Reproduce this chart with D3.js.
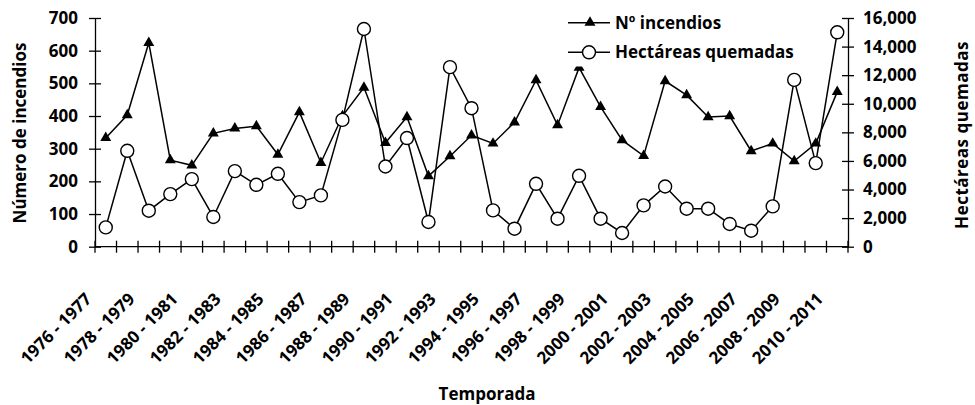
<!DOCTYPE html>
<meta charset="utf-8">
<script src="https://d3js.org/d3.v7.min.js"></script>
<title>Incendios y hectáreas quemadas por temporada</title>
<style>
body { margin: 0; background: #fff; }
svg { font-family: "Open Sans", sans-serif; font-weight: bold; }
</style>
<svg width="975" height="405"></svg>
<script>

// temporadas 1976-1977 ... 2010-2011
var seasons = d3.range(1976, 2011).map(y => y + " - " + (y + 1));

var incendios = [333, 403, 624, 265, 249, 347, 362, 369, 282, 412,
                 257, 400, 487, 318, 397, 216, 277, 341, 316, 381,
                 510, 372, 548, 428, 326, 278, 507, 464, 397, 400,
                 293, 316, 262, 316, 474];

var hectareas = [1350, 6710, 2520, 3680, 4730, 2080, 5290, 4330, 5100, 3120,
                 3590, 8870, 15230, 5610, 7600, 1730, 12560, 9690, 2540, 1260,
                 4400, 1960, 4960, 1960, 960, 2890, 4210, 2660, 2660, 1590,
                 1120, 2820, 11670, 5850, 15000];

var leftTicks = d3.range(0, 701, 100);
var rightTicks = d3.range(0, 16001, 2000);

var svg = d3.select("svg");

var x = d3.scaleBand().domain(seasons).range([95, 848]);
var yL = d3.scaleLinear().domain([0, 700]).range([246.7, 18]);
var yR = d3.scaleLinear().domain([0, 16000]).range([246.7, 18]);
var cx = d => x(d) + x.bandwidth() / 2;

// axes
var gl = svg.append("g")
    .attr("transform", "translate(95,0)")
    .call(d3.axisLeft(yL).tickValues(leftTicks).tickSize(6).tickSizeOuter(0).tickPadding(11));
gl.selectAll(".tick line").attr("x1", 6);

var gr = svg.append("g")
    .attr("transform", "translate(848,0)")
    .call(d3.axisRight(yR).tickValues(rightTicks).tickFormat(d3.format(",")).tickSize(6).tickSizeOuter(0).tickPadding(9));
gr.selectAll(".tick line").attr("x1", -6);

svg.selectAll(".domain, .tick line").attr("stroke", "#000").attr("stroke-width", 1.3);
svg.selectAll(".tick text")
    .attr("font-size", 17).attr("font-family", "Open Sans").attr("font-weight", "bold").attr("fill", "#000");

// x axis, ticks between categories
var xa = svg.append("g");
xa.append("line")
    .attr("x1", 95).attr("x2", 848).attr("y1", yL(0)).attr("y2", yL(0))
    .attr("stroke", "#000").attr("stroke-width", 1.3);
xa.selectAll("line.t")
    .data(seasons.map(s => x(s)).concat([848]))
    .join("line")
      .attr("class", "t")
      .attr("x1", d => d).attr("x2", d => d)
      .attr("y1", yL(0) - 6).attr("y2", yL(0) + 6)
      .attr("stroke", "#000").attr("stroke-width", 1.3);
xa.selectAll("text")
    .data(seasons.filter((s, i) => i % 2 === 0))
    .join("text")
      .attr("transform", d => "translate(" + (cx(d) - 13) + ",300) rotate(-45)")
      .attr("text-anchor", "end")
      .attr("font-size", 17)
      .text(d => d);

// series: incendios first, circles drawn over them
var lineL = d3.line().x((d, i) => cx(seasons[i])).y(d => yL(d));
var lineR = d3.line().x((d, i) => cx(seasons[i])).y(d => yR(d));
var tri = d3.symbol(d3.symbolTriangle, 52);

svg.append("path").datum(incendios)
    .attr("d", lineL).attr("fill", "none").attr("stroke", "#000").attr("stroke-width", 1.5);
svg.append("g").selectAll("path")
    .data(incendios)
    .join("path")
      .attr("d", tri)
      .attr("transform", (d, i) => "translate(" + cx(seasons[i]) + "," + yL(d) + ")")
      .attr("fill", "#000");

svg.append("path").datum(hectareas)
    .attr("d", lineR).attr("fill", "none").attr("stroke", "#000").attr("stroke-width", 1.5);
svg.append("g").selectAll("circle")
    .data(hectareas)
    .join("circle")
      .attr("cx", (d, i) => cx(seasons[i]))
      .attr("cy", d => yR(d))
      .attr("r", 6.5)
      .attr("fill", "#fff").attr("stroke", "#000").attr("stroke-width", 1.4);

// legend
var lg = svg.append("g");
lg.append("rect").attr("x", 562).attr("y", 3).attr("width", 220).attr("height", 63.5).attr("fill", "#fff");
var items = [{name: "Nº incendios", y: 22.7, mark: "tri"}, {name: "Hectáreas quemadas", y: 52.3, mark: "circ"}];
items.forEach(it => {
  lg.append("line").attr("x1", 568).attr("x2", 610).attr("y1", it.y).attr("y2", it.y)
    .attr("stroke", "#000").attr("stroke-width", 1.5);
  if (it.mark === "tri") {
    lg.append("path").attr("d", tri).attr("transform", "translate(590," + it.y + ")").attr("fill", "#000");
  } else {
    lg.append("circle").attr("cx", 589).attr("cy", it.y).attr("r", 6.5)
      .attr("fill", "#fff").attr("stroke", "#000").attr("stroke-width", 1.4);
  }
  lg.append("text").attr("x", 615).attr("y", it.y + 6).attr("font-size", 17).text(it.name);
});

// axis titles
svg.append("text")
    .attr("transform", "translate(26,133) rotate(-90)")
    .attr("text-anchor", "middle").attr("font-size", 17)
    .text("Número de incendios");
svg.append("text")
    .attr("transform", "translate(968,135) rotate(-90)")
    .attr("text-anchor", "middle").attr("font-size", 17).attr("letter-spacing", 0.5)
    .text("Hectáreas quemadas");
svg.append("text")
    .attr("x", 487).attr("y", 400)
    .attr("text-anchor", "middle").attr("font-size", 17)
    .text("Temporada");
</script>
